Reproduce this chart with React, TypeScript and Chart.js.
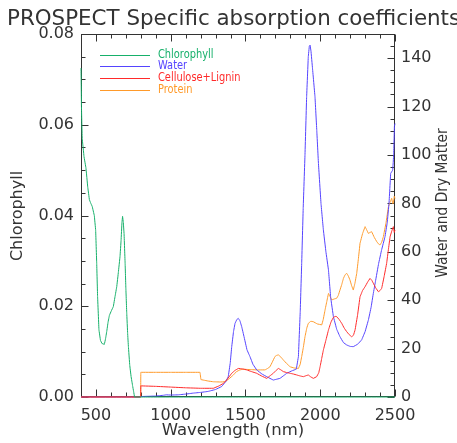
import React, { useEffect, useRef } from "react";
import { Chart, registerables } from "chart.js";
Chart.register(...registerables);

const titleText = "PROSPECT Specific absorption coefficients";
const xTitle = "Wavelength (nm)";
const yLeftTitle = "Chlorophyll";
const yRightTitle = "Water and Dry Matter";
const seriesNames = ["Chlorophyll", "Water", "Cellulose+Lignin", "Protein"];
const seriesColors = ["#16b06a", "#5544ff", "#ff2a2a", "#ff9a2a"];

const xTicks = [500, 1000, 1500, 2000, 2500];
const yLeftTicks = [0, 0.02, 0.04, 0.06, 0.08];
const yRightTicks = [0, 20, 40, 60, 80, 100, 120, 140];

const chlWl = [400, 401, 403, 408, 420, 433, 445, 456, 464, 475, 489, 498, 505, 511, 520, 530, 540, 556, 564, 572, 581, 590, 603, 616, 628, 639, 650, 661, 668, 674, 678, 683, 688, 695, 700, 706, 712, 717, 726, 735, 745, 752, 758, 800, 1500, 2500];
const chlVal = [0.0725, 0.07, 0.064, 0.057, 0.053, 0.0505, 0.0463, 0.0435, 0.0428, 0.042, 0.040, 0.0368, 0.0295, 0.0221, 0.0148, 0.0125, 0.0118, 0.0116, 0.0128, 0.0144, 0.0165, 0.018, 0.019, 0.0199, 0.0222, 0.0243, 0.0275, 0.031, 0.0345, 0.0385, 0.0398, 0.0385, 0.036, 0.0295, 0.024, 0.0184, 0.014, 0.0111, 0.007, 0.0045, 0.0025, 0.0012, 0.0, 0.0, 0.0, 0.0];

const waterWl = [400, 799, 800, 850, 900, 950, 970, 1000, 1050, 1100, 1150, 1200, 1250, 1300, 1340, 1370, 1385, 1398, 1408, 1420, 1430, 1442, 1452, 1463, 1475, 1490, 1510, 1530, 1550, 1575, 1610, 1642, 1686, 1731, 1776, 1810, 1840, 1854, 1866, 1876, 1886, 1898, 1909, 1920, 1927, 1932, 1938, 1948, 1965, 1977, 1988, 2005, 2021, 2038, 2055, 2070, 2088, 2110, 2132, 2155, 2177, 2200, 2221, 2250, 2277, 2300, 2322, 2340, 2355, 2370, 2390, 2410, 2433, 2448, 2460, 2471, 2485, 2491, 2496, 2500];
const waterVal = [0, 0, 0.2, 0.3, 0.4, 0.7, 0.9, 0.8, 0.9, 1.2, 1.6, 1.9, 2.3, 3.1, 4.3, 6.5, 8.5, 14, 20.8, 27, 30.4, 32, 32.5, 31.5, 29, 25, 19.5, 16.7, 13.5, 11.2, 9.5, 8.4, 7.0, 7.7, 9.8, 10.8, 11.5, 16.7, 35, 55.2, 78, 100, 124, 140.6, 145, 145.4, 143, 136, 124, 110, 96.5, 80, 69, 60, 52.5, 41, 33.2, 28, 24.9, 22.5, 21.5, 20.9, 20.8, 21.8, 23.6, 27, 31.8, 37, 42.8, 48, 55, 60.7, 66.2, 72, 80, 92.4, 93.8, 100, 111.7, 113];

const cellWl = [400, 799, 800, 900, 1000, 1100, 1200, 1285, 1320, 1352, 1380, 1408, 1430, 1452, 1480, 1508, 1540, 1575, 1610, 1642, 1665, 1686, 1705, 1720, 1737, 1753, 1776, 1798, 1820, 1843, 1865, 1887, 1905, 1920, 1937, 1954, 1976, 1990, 1999, 2010, 2021, 2038, 2055, 2072, 2088, 2100, 2110, 2127, 2144, 2160, 2177, 2193, 2210, 2222, 2233, 2250, 2266, 2283, 2300, 2317, 2333, 2345, 2355, 2372, 2389, 2400, 2411, 2428, 2444, 2456, 2467, 2478, 2489, 2495, 2500];
const cellVal = [0, 0, 4.6, 4.4, 4.1, 3.8, 3.6, 3.6, 4.5, 5.6, 7.5, 9.8, 11, 11.8, 11.6, 11.2, 10.5, 9.8, 8.6, 7.7, 8.8, 9.8, 11, 11.8, 11.2, 10.5, 10.1, 9.8, 9.5, 9.1, 8.7, 8.4, 8.8, 9.1, 8.3, 7.7, 8.4, 10, 12.5, 16, 19.4, 23.5, 27.7, 31, 32.9, 33.3, 33.2, 32, 30.4, 28.5, 27, 25.8, 24.9, 25.5, 27.7, 34, 41.4, 44, 45.6, 47.5, 49, 48.2, 47, 45, 43.5, 44, 44.9, 50, 55.2, 61, 66.2, 68.5, 70.4, 68, 69];

const protWl = [400, 799, 800, 900, 1000, 1100, 1196, 1202, 1250, 1285, 1330, 1363, 1390, 1419, 1440, 1463, 1485, 1508, 1540, 1575, 1600, 1631, 1648, 1664, 1680, 1697, 1708, 1720, 1737, 1753, 1776, 1798, 1825, 1854, 1866, 1876, 1887, 1898, 1910, 1920, 1937, 1954, 1980, 2010, 2020, 2032, 2044, 2055, 2066, 2077, 2093, 2110, 2121, 2132, 2144, 2155, 2166, 2177, 2188, 2199, 2210, 2221, 2232, 2244, 2255, 2266, 2283, 2300, 2311, 2322, 2333, 2344, 2361, 2378, 2389, 2400, 2411, 2422, 2440, 2456, 2467, 2478, 2484, 2489, 2495, 2500];
const protVal = [0, 0, 10.2, 10.2, 10.2, 10.2, 10.2, 7.2, 6.6, 6.3, 6.2, 6.3, 7.5, 9.1, 10.5, 11.2, 11.5, 11.4, 11.3, 11.2, 11.2, 11.2, 11.8, 12.5, 14.5, 16.7, 17.2, 17.4, 16.5, 15.3, 13.8, 12.5, 12, 11.8, 13.5, 16.7, 20.5, 24.9, 28.5, 30.4, 31.3, 31.1, 30.2, 29.8, 32, 35.9, 39.5, 42.8, 41.5, 40.1, 40.5, 40.8, 42, 44.2, 46.5, 49, 50.5, 51.1, 50, 48.3, 46, 44.2, 47, 51.1, 57, 63.5, 67.5, 70.4, 69, 67.6, 68, 68.3, 66, 64.2, 63.3, 62.8, 64, 66.2, 72, 78.6, 80.5, 82.1, 80, 80, 83, 82];

const FONT = "'DejaVu Sans', sans-serif";
const TEXT = "#333333";

function pts(xs: number[], ys: number[]) {
  return xs.map((x, i) => ({ x, y: ys[i] }));
}

const decorPlugin = {
  id: "decor",
  beforeDatasetsDraw(chart: any) {
    const ctx = chart.ctx;
    const a = chart.chartArea;
    const sx = chart.scales.x;
    const sl = chart.scales.y;
    const sr = chart.scales.y1;
    ctx.save();
    ctx.strokeStyle = "#333";
    ctx.lineWidth = 1;
    const L = Math.round(a.left) + 0.5;
    const R = Math.round(a.right) - 0.5;
    const T = Math.round(a.top) + 0.5;
    const B = Math.round(a.bottom) - 0.5;
    ctx.strokeRect(L, T, R - L, B - T);
    ctx.beginPath();
    for (let v = 400; v <= 2500; v += 100) {
      const p = Math.round(sx.getPixelForValue(v)) + 0.5;
      const len = v % 500 === 0 ? 7 : 4;
      ctx.moveTo(p, B);
      ctx.lineTo(p, B - len);
      ctx.moveTo(p, T);
      ctx.lineTo(p, T + len);
    }
    for (let i = 0; i <= 16; i++) {
      const p = Math.round(sl.getPixelForValue(i * 0.005)) + 0.5;
      const len = i % 4 === 0 ? 7 : 4;
      ctx.moveTo(L, p);
      ctx.lineTo(L + len, p);
    }
    for (let v = 0; v <= 150; v += 5) {
      const p = Math.round(sr.getPixelForValue(v)) + 0.5;
      const len = v % 20 === 0 ? 7 : 4;
      ctx.moveTo(R, p);
      ctx.lineTo(R - len, p);
    }
    ctx.stroke();
    ctx.restore();
  },
  afterDraw(chart: any) {
    const ctx = chart.ctx;
    ctx.save();
    ctx.fillStyle = TEXT;
    ctx.font = "21.4px " + FONT;
    ctx.textAlign = "left";
    ctx.textBaseline = "alphabetic";
    ctx.fillText(titleText, 7, 25);

    ctx.font = "16.5px " + FONT;
    ctx.textAlign = "center";
    ctx.textBaseline = "middle";
    ctx.fillText(xTitle, 233, 431);

    ctx.font = "16px " + FONT;
    ctx.save();
    ctx.translate(18, 216);
    ctx.rotate(-Math.PI / 2);
    ctx.fillText(yLeftTitle, 0, 0);
    ctx.restore();

    ctx.save();
    ctx.translate(443, 203);
    ctx.rotate(-Math.PI / 2);
    ctx.scale(0.86, 1);
    ctx.fillText(yRightTitle, 0, 0);
    ctx.restore();

    ctx.font = "12px " + FONT;
    ctx.textAlign = "left";
    ctx.lineWidth = 1;
    seriesNames.forEach((n, i) => {
      const y = 54.5 + i * 11.7;
      const yy = Math.round(y) + 0.5;
      ctx.strokeStyle = seriesColors[i];
      ctx.beginPath();
      ctx.moveTo(100, yy);
      ctx.lineTo(150, yy);
      ctx.stroke();
      ctx.fillStyle = seriesColors[i];
      ctx.save();
      ctx.translate(158, y);
      ctx.scale(0.82, 1);
      ctx.fillText(n, 0, 0);
      ctx.restore();
    });
    ctx.restore();
  },
};

export default function App() {
  const ref = useRef<HTMLCanvasElement>(null);
  useEffect(() => {
    if (!ref.current) return;
    const mk = (i: number, data: any[], axis: string) => ({
      label: seriesNames[i],
      data,
      borderColor: seriesColors[i],
      backgroundColor: seriesColors[i],
      borderWidth: 1,
      pointRadius: 0,
      tension: 0.001,
      fill: false,
      clip: false,
      yAxisID: axis,
    });
    const chart = new Chart(ref.current, {
      type: "line",
      data: {
        datasets: [
          mk(0, pts(chlWl, chlVal), "y"),
          mk(2, pts(cellWl, cellVal), "y1"),
          mk(1, pts(waterWl, waterVal), "y1"),
          mk(3, pts(protWl, protVal), "y1"),
        ],
      },
      options: {
        responsive: false,
        animation: false,
        events: [],
        layout: { padding: { top: 34, left: 0, right: 0, bottom: 0 } },
        plugins: { legend: { display: false }, title: { display: false }, tooltip: { enabled: false } },
        scales: {
          x: {
            type: "linear",
            position: "bottom",
            min: 400,
            max: 2500,
            grid: { display: false, drawTicks: false },
            border: { display: false },
            afterFit: (s: any) => { s.height = 46; },
            afterBuildTicks: (s: any) => { s.ticks = xTicks.map((v) => ({ value: v })); },
            ticks: {
              padding: 9,
              maxRotation: 0,
              autoSkip: false,
              color: TEXT,
              font: { family: FONT, size: 16 },
              callback: (v: any) => String(v),
            },
          },
          y: {
            type: "linear",
            position: "left",
            min: 0,
            max: 0.08,
            grid: { display: false, drawTicks: false },
            border: { display: false },
            afterFit: (s: any) => { s.width = 81; },
            afterBuildTicks: (s: any) => { s.ticks = yLeftTicks.map((v) => ({ value: v })); },
            ticks: {
              padding: 7,
              autoSkip: false,
              color: TEXT,
              font: { family: FONT, size: 16 },
              callback: (v: any) => Number(v).toFixed(2),
            },
          },
          y1: {
            type: "linear",
            position: "right",
            min: 0,
            max: 150,
            grid: { display: false, drawTicks: false },
            border: { display: false },
            afterFit: (s: any) => { s.width = 62; },
            afterBuildTicks: (s: any) => { s.ticks = yRightTicks.map((v) => ({ value: v })); },
            ticks: {
              padding: 6,
              autoSkip: false,
              color: TEXT,
              font: { family: FONT, size: 16 },
              callback: (v: any) => String(v),
            },
          },
        },
      },
      plugins: [decorPlugin],
    } as any);
    return () => chart.destroy();
  }, []);
  return (
    <div style={{ position: "absolute", left: 0, top: 0, width: 457, height: 443, background: "#fff" }}>
      <canvas ref={ref} width={457} height={443} />
    </div>
  );
}
